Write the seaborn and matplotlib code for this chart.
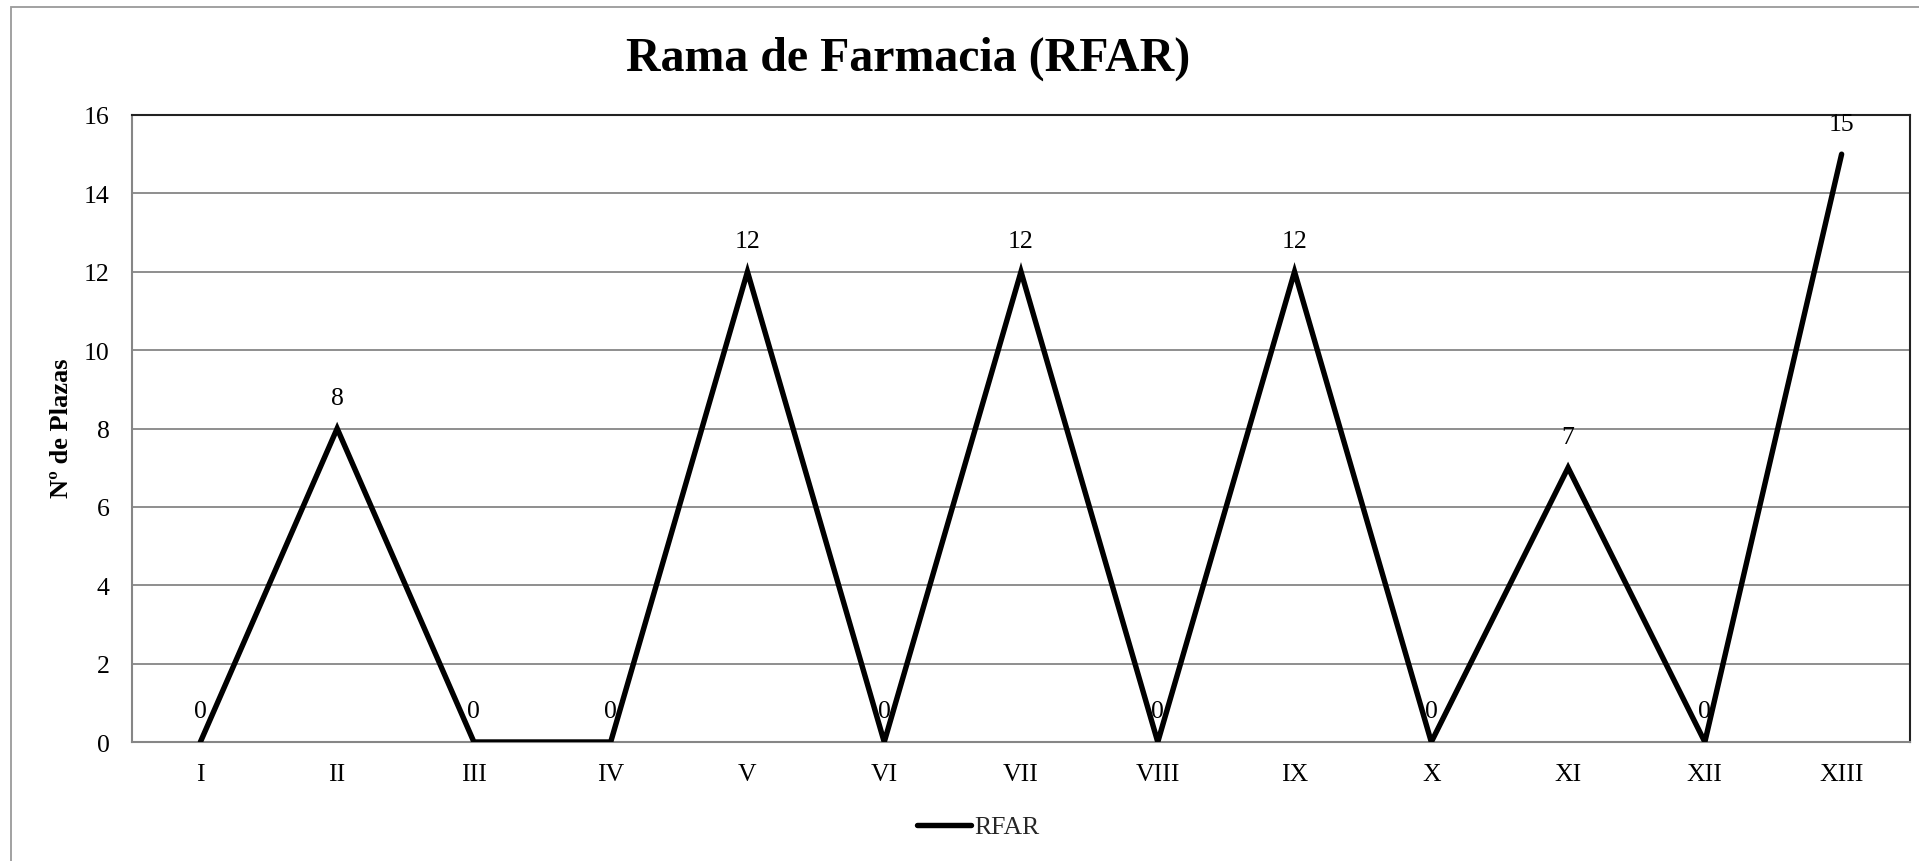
import matplotlib
matplotlib.use("Agg")
import matplotlib.pyplot as plt
import seaborn as sns
import pandas as pd
from matplotlib.patches import Rectangle

# Data
categorias = ["I", "II", "III", "IV", "V", "VI", "VII", "VIII", "IX", "X", "XI", "XII", "XIII"]
plazas = [0, 8, 0, 0, 12, 0, 12, 0, 12, 0, 7, 0, 15]
serie = "RFAR"
titulo = "Rama de Farmacia (RFAR)"
etiqueta_y = "Nº de Plazas"
yticks = [0, 2, 4, 6, 8, 10, 12, 14, 16]

sns.set_theme(style="white")
plt.rcParams["font.family"] = ["Liberation Serif", "DejaVu Serif"]

W, H = 1919, 862
fig = plt.figure(figsize=(W / 100, H / 100), dpi=100)
fig.patch.set_facecolor("white")

# Outer chart-area border (runs off the right and bottom edges)
fig.patches.append(Rectangle((11 / W, -0.05), 1.1, 1 - 8 / H + 0.05,
                             transform=fig.transFigure, fill=False,
                             edgecolor="#9a9a9a", linewidth=1.3, zorder=0))

ax = fig.add_axes([132 / W, 1 - 743 / H, (1910 - 132) / W, (743 - 116) / H])

df = pd.DataFrame({"Categoría": categorias, "Plazas": plazas, "Serie": serie})
sns.lineplot(data=df, x="Categoría", y="Plazas", hue="Serie", palette=["black"],
             sort=False, linewidth=3.9, ax=ax, legend=True,
             solid_capstyle="round", solid_joinstyle="miter", zorder=3)

ax.set_xlim(-0.5, len(categorias) - 0.5)
ax.set_ylim(0, 16)
ax.set_yticks(yticks)
ax.set_yticklabels([str(v) for v in yticks])
ax.set_xticks(range(len(categorias)))
ax.set_xticklabels(categorias)
ax.tick_params(axis="both", length=0, labelsize=18.5, colors="black")
ax.tick_params(axis="y", pad=16)
ax.tick_params(axis="x", pad=15)
ax.grid(axis="y", color="#868686", linewidth=1.3, zorder=0)
ax.grid(axis="x", visible=False)
ax.set_axisbelow(True)

for side in ["top", "right"]:
    ax.spines[side].set_color("#222222")
    ax.spines[side].set_linewidth(1.5)
for side in ["left", "bottom"]:
    ax.spines[side].set_color("#868686")
    ax.spines[side].set_linewidth(1.5)

ax.set_xlabel("")
ax.set_ylabel("")

# Value labels above each point
for i, v in enumerate(plazas):
    ax.annotate(str(v), (i, v), xytext=(0, 22), textcoords="offset points",
                ha="center", va="center", fontsize=18.5, color="black", zorder=4)

fig.text(0.4732, 1 - 59 / H, titulo, ha="center", va="center",
         fontsize=34.5, fontweight="bold", color="black")
fig.text(61 / W, 1 - 428 / H, etiqueta_y, ha="center", va="center",
         rotation=90, fontsize=19, fontweight="bold", color="black")

handles, labels = ax.get_legend_handles_labels()
ax.get_legend().remove()
fig.legend(handles, labels, loc="center", bbox_to_anchor=(978 / W, 1 - 828 / H),
           frameon=False, fontsize=18.5, handlelength=2.1, handletextpad=0.12,
           borderpad=0, borderaxespad=0)

fig.savefig("out.png", dpi=100, facecolor="white")
